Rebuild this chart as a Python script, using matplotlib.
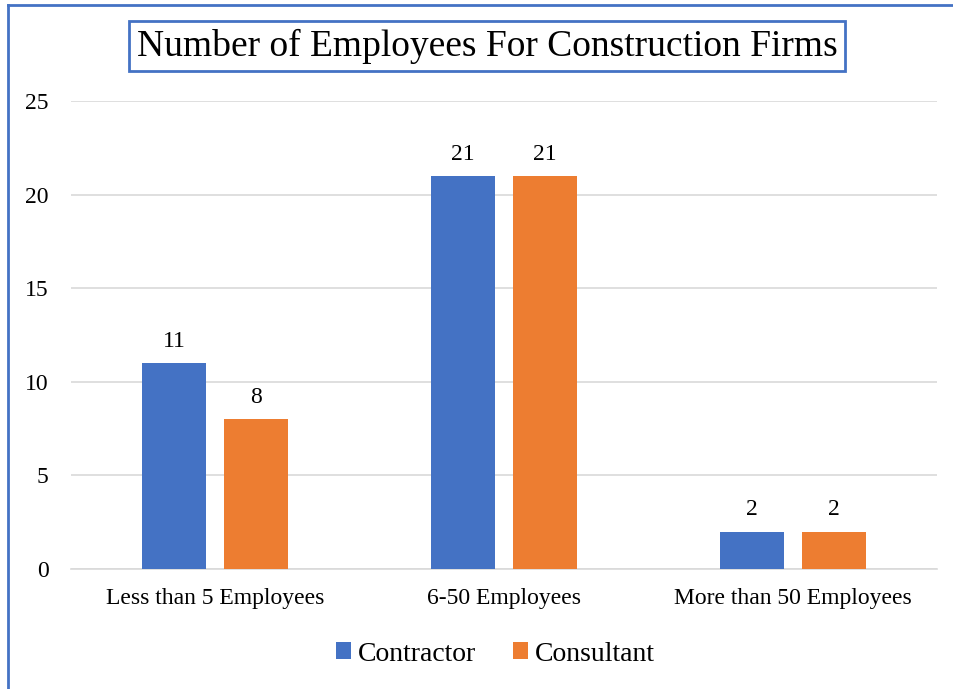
import numpy as np
import matplotlib.pyplot as plt
from matplotlib.lines import Line2D

# Data
categories = ['Less than 5 Employees', '6-50 Employees', 'More than 50 Employees']
contractor = [11, 21, 2]
consultant = [8, 21, 2]

blue = '#4472C4'
orange = '#ED7D31'

plt.rcParams['font.family'] = ['Liberation Serif', 'DejaVu Serif']

fig = plt.figure(figsize=(9.54, 6.89), dpi=100)
ax = fig.add_axes([71/954, 1 - 569/689, (937-71)/954, (569-101)/689])

x = np.arange(len(categories))
w = 0.222
off = 0.142
b1 = ax.bar(x - off, contractor, w, color=blue, label='Contractor', zorder=3)
b2 = ax.bar(x + off, consultant, w, color=orange, label='Consultant', zorder=3)
for bars in (b1, b2):
    ax.bar_label(bars, padding=8, fontsize=17)

ax.set_xlim(-0.5, 2.5)
ax.set_ylim(0, 25)
ax.set_yticks([0, 5, 10, 15, 20, 25])
ax.set_xticks(x)
ax.set_xticklabels(categories)
ax.tick_params(axis='both', length=0, labelsize=17)
ax.tick_params(axis='y', pad=16)
ax.tick_params(axis='x', pad=14)
ax.grid(axis='y', color='#d9d9d9', linewidth=1.2, zorder=0)
for s in ['top', 'right', 'left']:
    ax.spines[s].set_visible(False)
ax.spines['bottom'].set_color('#d9d9d9')
ax.spines['bottom'].set_linewidth(1.2)

# Title in a box
fig.text(487/954, 1 - 46/689, 'Number of Employees For Construction Firms',
         ha='center', va='center', fontsize=27,
         bbox=dict(boxstyle='square,pad=0.2', facecolor='white',
                   edgecolor=blue, linewidth=2))

ax.legend(loc='center', bbox_to_anchor=(0.49, -0.182), ncol=2, frameon=False,
          fontsize=20, handlelength=0.55, handleheight=0.55, handletextpad=0.25,
          columnspacing=1.3)

# Outer chart border (left and top)
fig.add_artist(Line2D([8.5/954, 8.5/954], [0, 1 - 4.5/689], color=blue, lw=2))
fig.add_artist(Line2D([8.5/954, 1], [1 - 4.5/689, 1 - 4.5/689], color=blue, lw=2))

fig.savefig('out.png', dpi=100)
